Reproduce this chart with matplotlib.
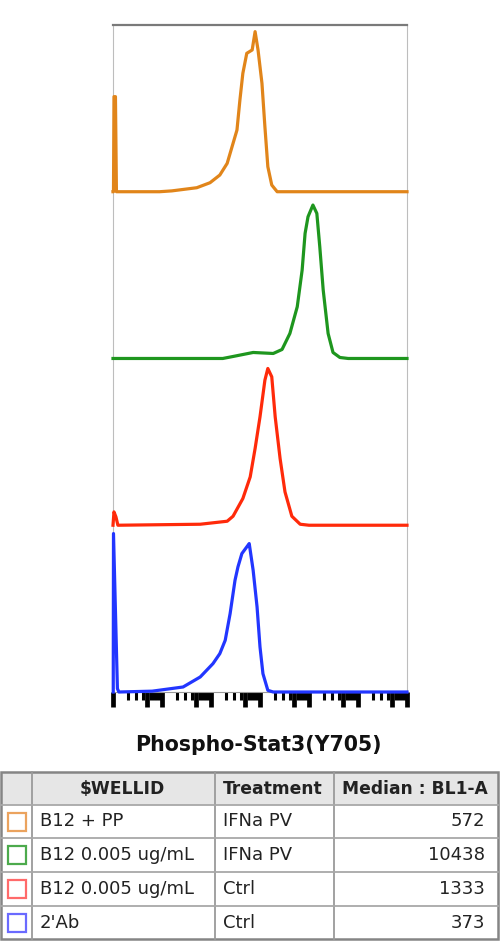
import numpy as np
import matplotlib
matplotlib.use('Agg')
from matplotlib import pyplot as plt
from matplotlib.patches import Rectangle

# histogram outlines
# x: log10(BL1-A), y: % of lane height
orange_log = [0.0, 0.01, 0.02, 0.05, 0.07, 0.95, 1.2, 1.71, 1.98, 2.18, 2.33, 2.45, 2.53, 2.59,
              2.65, 2.73, 2.84, 2.90, 2.96, 3.04, 3.10, 3.16, 3.24, 3.35, 6.0]
orange_pct = [0, 0, 57, 57, 0, 0, 0.5, 2.4, 5.4, 10, 17, 29, 37, 55,
              71, 83, 85, 96, 85, 65, 39, 15, 4, 0, 0]

green_log = [0.0, 2.24, 2.45, 2.86, 3.27, 3.45, 3.61, 3.76, 3.86, 3.92, 3.98, 4.08, 4.16,
             4.22, 4.29, 4.39, 4.49, 4.63, 4.8, 6.0]
green_pct = [0, 0, 1.2, 3.6, 3.0, 5.4, 15, 31, 53, 75, 85, 92, 87,
             67, 41, 15, 3.6, 0.6, 0, 0]

red_log = [0.0, 0.02, 0.06, 0.1, 1.78, 2.33, 2.45, 2.65, 2.80, 2.90, 3.0, 3.10, 3.16, 3.24,
           3.31, 3.41, 3.51, 3.65, 3.82, 4.0, 6.0]
red_pct = [0, 8, 5, 0, 0.6, 2.4, 5.4, 16, 29, 46, 65, 87, 94, 89,
           65, 40, 20, 5.4, 0.6, 0, 0]

blue_log = [0.005, 0.01, 0.09, 0.12, 0.8, 1.43, 1.78, 2.04, 2.18, 2.29, 2.39, 2.49, 2.55, 2.63,
            2.73, 2.78, 2.86, 2.94, 3.0, 3.06, 3.16, 3.27, 6.0]
blue_pct = [0, 95, 2, 0, 0.5, 3, 9, 17, 23, 31, 47, 67, 75, 83,
            87, 89, 73, 51, 27, 11, 1, 0, 0]

# table
well_ids = ['B12 + PP', 'B12 0.005 ug/mL', 'B12 0.005 ug/mL', "2'Ab"]
treatments = ['IFNa PV', 'IFNa PV', 'Ctrl', 'Ctrl']
medians = [572, 10438, 1333, 373]
headers = ['$WELLID', 'Treatment', 'Median : BL1-A']

line_colors = ['#E1851A', '#1E961E', '#FF2A0A', '#2236FF']
box_colors = ['#EBA35E', '#4CAA4C', '#FF6A6A', '#6A6AFF']

fig = plt.figure(figsize=(5, 9.42), dpi=100)
ax = fig.add_axes([0.226, 0.2654, 0.588, 0.7081])

series = [(orange_log, orange_pct), (green_log, green_pct), (red_log, red_pct), (blue_log, blue_pct)]
for i, (lx, py) in enumerate(series):
    lane = 3 - i
    ax.plot(10 ** np.array(lx), lane + np.array(py) / 100.0, color=line_colors[i],
            lw=2.3, solid_joinstyle='round', clip_on=False, zorder=3)

ax.set_xscale('log')
ax.set_xlim(1, 1e6)
ax.set_ylim(0, 4)
ax.set_yticks([])

# decades and the 5s get the long ticks, the rest short ones
major = []
minor = []
for d in range(0, 6):
    major += [10 ** d, 5 * 10 ** d]
    minor += [m * 10 ** d for m in (2, 3, 4, 6, 7, 8, 9)]
major.append(1e6)
ax.set_xticks(major)
ax.set_xticks(minor, minor=True)
ax.set_xticklabels([])
ax.set_xticklabels([], minor=True)
ax.tick_params(axis='x', which='major', length=11, width=3.4, color='black', direction='out')
ax.tick_params(axis='x', which='minor', length=6, width=2.2, color='black', direction='out')

ax.spines['top'].set_color('#7a7a7a')
ax.spines['top'].set_linewidth(1.6)
ax.spines['left'].set_color('#bdbdbd')
ax.spines['right'].set_color('#bdbdbd')
ax.spines['bottom'].set_color('#9a9a9a')

fig.text(258 / 500, 1 - 745 / 942, 'Phospho-Stat3(Y705)', ha='center', va='center',
         fontsize=14.8, fontweight='bold', color='#111111')

# table drawn in pixel coordinates
tab = fig.add_axes([0, 0, 1, 1])
tab.set_xlim(0, 500)
tab.set_ylim(942, 0)
tab.axis('off')

col_x = [1, 32, 215, 334, 498]
row_y = [772, 805, 838, 872, 906, 939]

tab.add_patch(Rectangle((col_x[0], row_y[0]), col_x[-1] - col_x[0], row_y[1] - row_y[0],
                        facecolor='#e6e6e6', edgecolor='none'))
for x in col_x[1:-1]:
    tab.plot([x, x], [row_y[0], row_y[-1]], color='#9a9a9a', lw=1.3)
for y in row_y[1:-1]:
    tab.plot([col_x[0], col_x[-1]], [y, y], color='#a8a8a8', lw=1.3)
tab.add_patch(Rectangle((col_x[0], row_y[0]), col_x[-1] - col_x[0], row_y[-1] - row_y[0],
                        facecolor='none', edgecolor='#858585', lw=1.8))

hy = (row_y[0] + row_y[1]) / 2
tab.text(122, hy, headers[0], ha='center', va='center', fontsize=12.3, fontweight='bold', color='#222222')
tab.text(273, hy, headers[1], ha='center', va='center', fontsize=12.3, fontweight='bold', color='#222222')
tab.text(415, hy, headers[2], ha='center', va='center', fontsize=12.3, fontweight='bold', color='#222222')

for r in range(4):
    cy = (row_y[r + 1] + row_y[r + 2]) / 2
    tab.add_patch(Rectangle((7.5, cy - 9), 18, 18, facecolor='white',
                            edgecolor=box_colors[r], lw=1.6))
    tab.text(40, cy, well_ids[r], ha='left', va='center', fontsize=13, color='#222222')
    tab.text(223, cy, treatments[r], ha='left', va='center', fontsize=13, color='#222222')
    tab.text(485, cy, str(medians[r]), ha='right', va='center', fontsize=13, color='#222222')

fig.savefig('out.png', dpi=100)
